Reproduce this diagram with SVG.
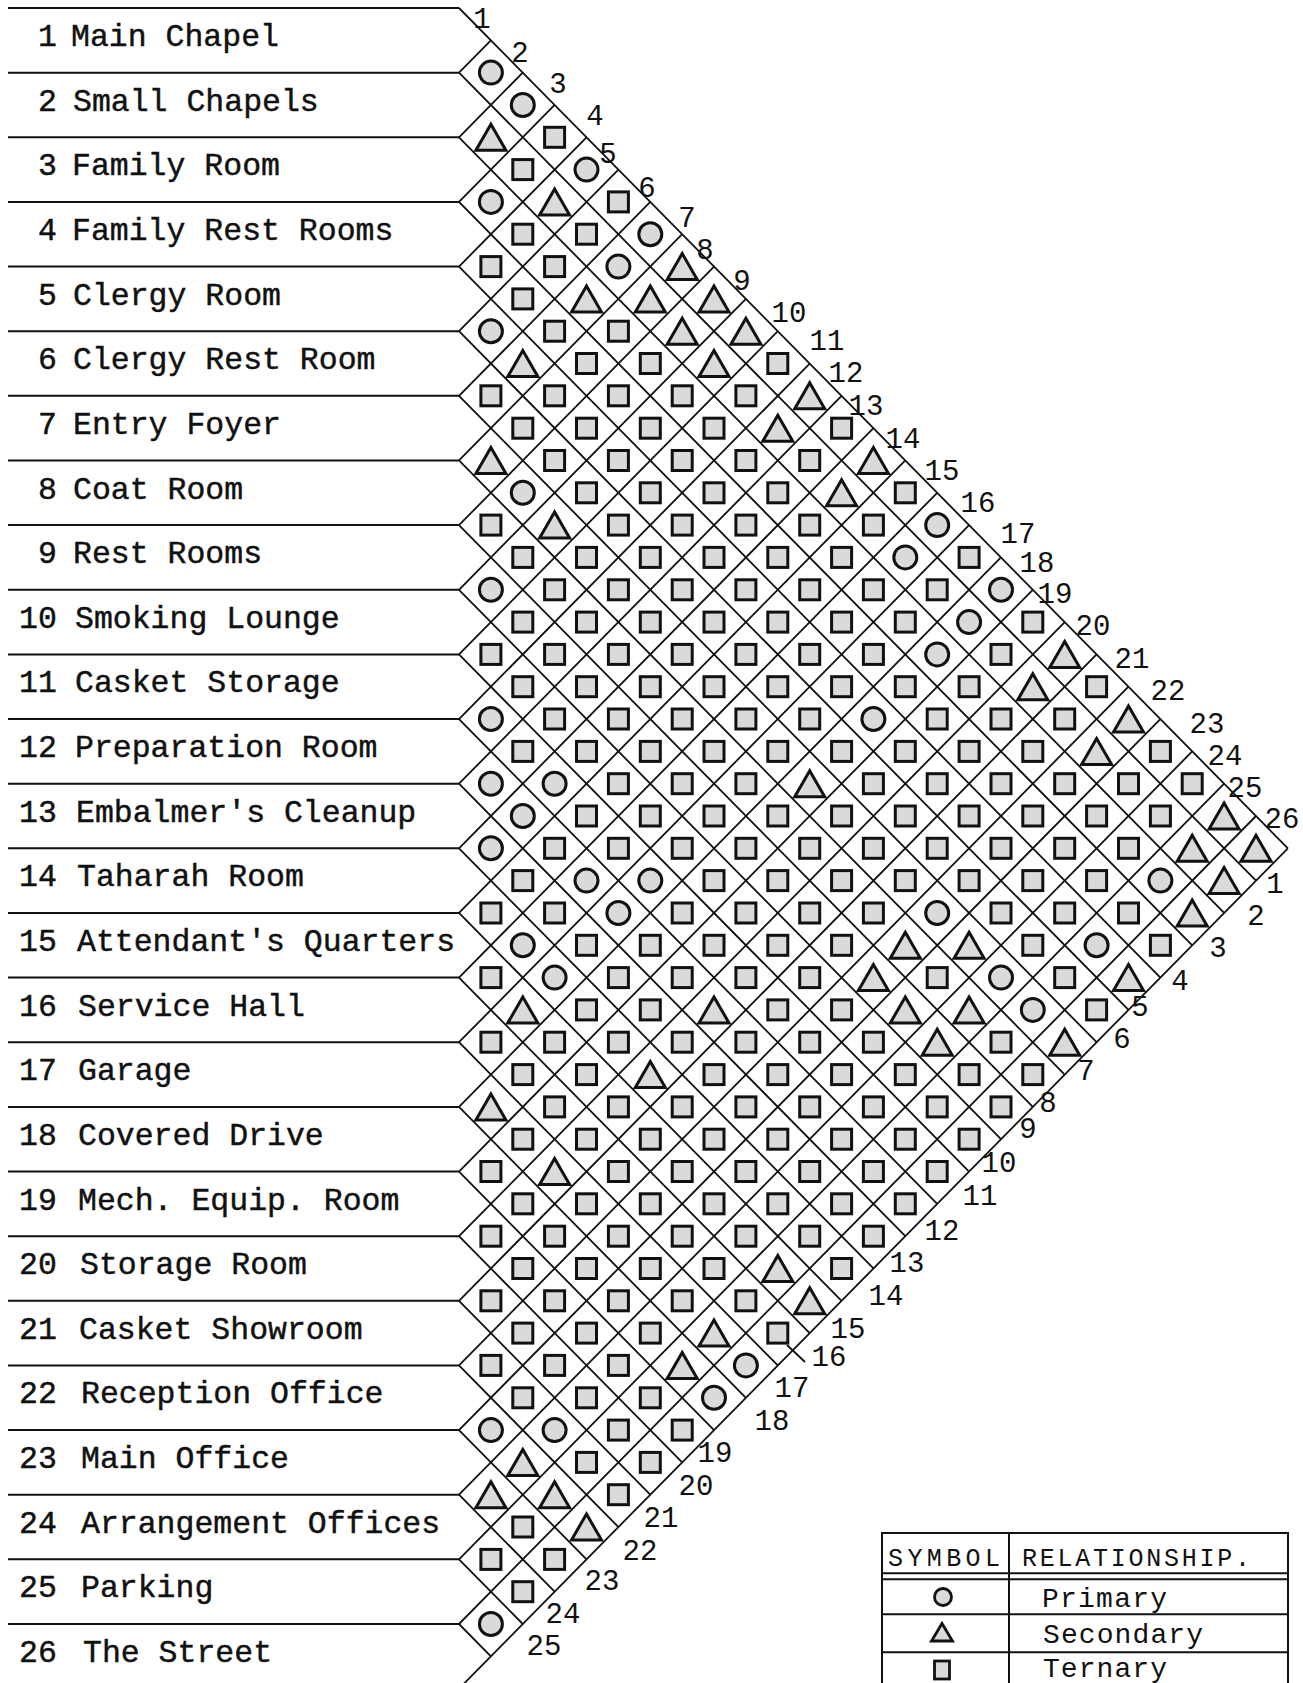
<svg xmlns="http://www.w3.org/2000/svg" xmlns:xlink="http://www.w3.org/1999/xlink" width="1303" height="1683" viewBox="0 0 1303 1683">
<style>
.lbl{font-family:"Liberation Mono","DejaVu Sans Mono",monospace;font-size:31.5px;fill:#111;stroke:#111;stroke-width:0.45}
.num{font-family:"Liberation Mono","DejaVu Sans Mono",monospace;font-size:29px;fill:#111;text-anchor:middle}
.leg{font-family:"Liberation Mono","DejaVu Sans Mono",monospace;fill:#111}
.ln{fill:none;stroke:#111;stroke-width:1.8}
.hl{fill:none;stroke:#111;stroke-width:2}
</style>
<defs>
<circle id="O" r="11.5"/>
<path id="T" d="M0 -13L15 13L-15 13Z"/>
<rect id="S" x="-10" y="-10" width="20" height="20"/>
</defs>
<rect width="1303" height="1683" fill="#fff"/>

<g id="row-lines" class="hl">
<path d="M8 8H459M8 72.64H459M8 137.28H459M8 201.92H459M8 266.56H459M8 331.2H459M8 395.84H459M8 460.48H459M8 525.12H459M8 589.76H459M8 654.4H459M8 719.04H459M8 783.68H459M8 848.32H459M8 912.96H459M8 977.6H459M8 1042.24H459M8 1106.88H459M8 1171.52H459M8 1236.16H459M8 1300.8H459M8 1365.44H459M8 1430.08H459M8 1494.72H459M8 1559.36H459M8 1624H459M8 1688.64H459"/>
</g>

<g id="labels" class="lbl">
<g id="room1"><text x="38" y="46">1</text><text x="71" y="46">Main Chapel</text></g>
<g id="room2"><text x="38" y="110.6">2</text><text x="73" y="110.6">Small Chapels</text></g>
<g id="room3"><text x="38" y="175.3">3</text><text x="72" y="175.3">Family Room</text></g>
<g id="room4"><text x="38" y="239.9">4</text><text x="72" y="239.9">Family Rest Rooms</text></g>
<g id="room5"><text x="38" y="304.6">5</text><text x="73" y="304.6">Clergy Room</text></g>
<g id="room6"><text x="38" y="369.2">6</text><text x="73" y="369.2">Clergy Rest Room</text></g>
<g id="room7"><text x="38" y="433.8">7</text><text x="73" y="433.8">Entry Foyer</text></g>
<g id="room8"><text x="38" y="498.5">8</text><text x="73" y="498.5">Coat Room</text></g>
<g id="room9"><text x="38" y="563.1">9</text><text x="73" y="563.1">Rest Rooms</text></g>
<g id="room10"><text x="19" y="627.8">10</text><text x="75" y="627.8">Smoking Lounge</text></g>
<g id="room11"><text x="19" y="692.4">11</text><text x="75" y="692.4">Casket Storage</text></g>
<g id="room12"><text x="19" y="757">12</text><text x="75" y="757">Preparation Room</text></g>
<g id="room13"><text x="19" y="821.7">13</text><text x="76" y="821.7">Embalmer's Cleanup</text></g>
<g id="room14"><text x="19" y="886.3">14</text><text x="77" y="886.3">Taharah Room</text></g>
<g id="room15"><text x="19" y="951">15</text><text x="77" y="951">Attendant's Quarters</text></g>
<g id="room16"><text x="19" y="1015.6">16</text><text x="78" y="1015.6">Service Hall</text></g>
<g id="room17"><text x="19" y="1080.2">17</text><text x="78" y="1080.2">Garage</text></g>
<g id="room18"><text x="19" y="1144.9">18</text><text x="78" y="1144.9">Covered Drive</text></g>
<g id="room19"><text x="19" y="1209.5">19</text><text x="78" y="1209.5">Mech. Equip. Room</text></g>
<g id="room20"><text x="19" y="1274.2">20</text><text x="80" y="1274.2">Storage Room</text></g>
<g id="room21"><text x="19" y="1338.8">21</text><text x="79" y="1338.8">Casket Showroom</text></g>
<g id="room22"><text x="19" y="1403.4">22</text><text x="81" y="1403.4">Reception Office</text></g>
<g id="room23"><text x="19" y="1468.1">23</text><text x="81" y="1468.1">Main Office</text></g>
<g id="room24"><text x="19" y="1532.7">24</text><text x="81" y="1532.7">Arrangement Offices</text></g>
<g id="room25"><text x="19" y="1597.4">25</text><text x="81" y="1597.4">Parking</text></g>
<g id="room26"><text x="19" y="1662">26</text><text x="83" y="1662">The Street</text></g>
</g>

<g id="grid" class="ln">
<path d="M459 8l828.88 840.32M459 72.64l797 808M459 137.28l765.12 775.68M459 201.92l733.24 743.36M459 266.56l701.36 711.04M459 331.2l669.48 678.72M459 395.84l637.6 646.4M459 460.48l605.72 614.08M459 525.12l573.84 581.76M459 589.76l541.96 549.44M459 654.4l510.08 517.12M459 719.04l478.2 484.8M459 783.68l446.32 452.48M459 848.32l414.44 420.16M459 912.96l382.56 387.84M459 977.6l350.68 355.52M459 1042.24l318.8 323.2M459 1106.88l286.92 290.88M459 1171.52l255.04 258.56M459 1236.16l223.16 226.24M459 1300.8l191.28 193.92M459 1365.44l159.4 161.6M459 1430.08l127.52 129.28M459 1494.72l95.64 96.96M459 1559.36l63.76 64.64M459 1624l31.88 32.32"/>
<path d="M459 72.64l31.88 -32.32M459 137.28l63.76 -64.64M459 201.92l95.64 -96.96M459 266.56l127.52 -129.28M459 331.2l159.4 -161.6M459 395.84l191.28 -193.92M459 460.48l223.16 -226.24M459 525.12l255.04 -258.56M459 589.76l286.92 -290.88M459 654.4l318.8 -323.2M459 719.04l350.68 -355.52M459 783.68l382.56 -387.84M459 848.32l414.44 -420.16M459 912.96l446.32 -452.48M459 977.6l478.2 -484.8M459 1042.24l510.08 -517.12M459 1106.88l541.96 -549.44M459 1171.52l573.84 -581.76M459 1236.16l605.72 -614.08M459 1300.8l637.6 -646.4M459 1365.44l669.48 -678.72M459 1430.08l701.36 -711.04M459 1494.72l733.24 -743.36M459 1559.36l765.12 -775.68M459 1624l797 -808M459 1688.64l828.88 -840.32"/>
<path d="M787 1345L805 1362"/>
</g>

<g id="column-numbers" class="num">
<text x="482" y="28">1</text><text x="520" y="62">2</text><text x="558" y="93">3</text><text x="595" y="125">4</text><text x="608" y="163">5</text><text x="647" y="197">6</text><text x="687" y="227">7</text><text x="705" y="259">8</text><text x="742" y="290">9</text><text x="789" y="322">10</text><text x="827" y="350">11</text><text x="846" y="382">12</text><text x="866" y="415">13</text><text x="903" y="448">14</text><text x="942" y="480">15</text><text x="978" y="512">16</text><text x="1018" y="543">17</text><text x="1037" y="572">18</text><text x="1055" y="603">19</text><text x="1093" y="635">20</text><text x="1132" y="668">21</text><text x="1168" y="700">22</text><text x="1207" y="733">23</text><text x="1225" y="765">24</text><text x="1245" y="797">25</text><text x="1282" y="828">26</text>
</g>
<g id="row-numbers" class="num">
<text x="1275" y="893">1</text><text x="1256" y="925">2</text><text x="1218" y="957">3</text><text x="1180" y="990">4</text><text x="1140" y="1016">5</text><text x="1122" y="1048">6</text><text x="1086" y="1080">7</text><text x="1048" y="1112">8</text><text x="1028" y="1138">9</text><text x="999" y="1172">10</text><text x="980" y="1205">11</text><text x="942" y="1240">12</text><text x="907" y="1272">13</text><text x="886" y="1305">14</text><text x="848" y="1338">15</text><text x="829" y="1366">16</text><text x="792" y="1397">17</text><text x="772" y="1430">18</text><text x="715" y="1462">19</text><text x="696" y="1495">20</text><text x="661" y="1527">21</text><text x="640" y="1560">22</text><text x="602" y="1590">23</text><text x="563" y="1623">24</text><text x="544" y="1655">25</text>
</g>

<g id="cells" fill="#dadada" stroke="#111" stroke-width="3">
<!-- row 1 -->
<use href="#O" x="490.9" y="72.6"/><use href="#O" x="522.8" y="105"/><use href="#S" x="554.6" y="137.3"/><use href="#O" x="586.5" y="169.6"/><use href="#S" x="618.4" y="201.9"/><use href="#O" x="650.3" y="234.2"/><use href="#T" x="682.2" y="266.6"/><use href="#T" x="714" y="298.9"/><use href="#T" x="745.9" y="331.2"/><use href="#S" x="777.8" y="363.5"/><use href="#T" x="809.7" y="395.8"/><use href="#S" x="841.6" y="428.2"/><use href="#T" x="873.4" y="460.5"/><use href="#S" x="905.3" y="492.8"/><use href="#O" x="937.2" y="525.1"/><use href="#S" x="969.1" y="557.4"/><use href="#O" x="1001" y="589.8"/><use href="#S" x="1032.8" y="622.1"/><use href="#T" x="1064.7" y="654.4"/><use href="#S" x="1096.6" y="686.7"/><use href="#T" x="1128.5" y="719"/><use href="#S" x="1160.4" y="751.4"/><use href="#S" x="1192.2" y="783.7"/><use href="#T" x="1224.1" y="816"/><use href="#T" x="1256" y="848.3"/>
<!-- row 2 -->
<use href="#T" x="490.9" y="137.3"/><use href="#S" x="522.8" y="169.6"/><use href="#T" x="554.6" y="201.9"/><use href="#S" x="586.5" y="234.2"/><use href="#O" x="618.4" y="266.6"/><use href="#T" x="650.3" y="298.9"/><use href="#T" x="682.2" y="331.2"/><use href="#T" x="714" y="363.5"/><use href="#S" x="745.9" y="395.8"/><use href="#T" x="777.8" y="428.2"/><use href="#S" x="809.7" y="460.5"/><use href="#T" x="841.6" y="492.8"/><use href="#S" x="873.4" y="525.1"/><use href="#O" x="905.3" y="557.4"/><use href="#S" x="937.2" y="589.8"/><use href="#O" x="969.1" y="622.1"/><use href="#S" x="1001" y="654.4"/><use href="#T" x="1032.8" y="686.7"/><use href="#S" x="1064.7" y="719"/><use href="#T" x="1096.6" y="751.4"/><use href="#S" x="1128.5" y="783.7"/><use href="#S" x="1160.4" y="816"/><use href="#T" x="1192.2" y="848.3"/><use href="#T" x="1224.1" y="880.6"/>
<!-- row 3 -->
<use href="#O" x="490.9" y="201.9"/><use href="#S" x="522.8" y="234.2"/><use href="#S" x="554.6" y="266.6"/><use href="#T" x="586.5" y="298.9"/><use href="#S" x="618.4" y="331.2"/><use href="#S" x="650.3" y="363.5"/><use href="#S" x="682.2" y="395.8"/><use href="#S" x="714" y="428.2"/><use href="#S" x="745.9" y="460.5"/><use href="#S" x="777.8" y="492.8"/><use href="#S" x="809.7" y="525.1"/><use href="#S" x="841.6" y="557.4"/><use href="#S" x="873.4" y="589.8"/><use href="#S" x="905.3" y="622.1"/><use href="#O" x="937.2" y="654.4"/><use href="#S" x="969.1" y="686.7"/><use href="#S" x="1001" y="719"/><use href="#S" x="1032.8" y="751.4"/><use href="#S" x="1064.7" y="783.7"/><use href="#S" x="1096.6" y="816"/><use href="#S" x="1128.5" y="848.3"/><use href="#O" x="1160.4" y="880.6"/><use href="#T" x="1192.2" y="913"/>
<!-- row 4 -->
<use href="#S" x="490.9" y="266.6"/><use href="#S" x="522.8" y="298.9"/><use href="#S" x="554.6" y="331.2"/><use href="#S" x="586.5" y="363.5"/><use href="#S" x="618.4" y="395.8"/><use href="#S" x="650.3" y="428.2"/><use href="#S" x="682.2" y="460.5"/><use href="#S" x="714" y="492.8"/><use href="#S" x="745.9" y="525.1"/><use href="#S" x="777.8" y="557.4"/><use href="#S" x="809.7" y="589.8"/><use href="#S" x="841.6" y="622.1"/><use href="#S" x="873.4" y="654.4"/><use href="#S" x="905.3" y="686.7"/><use href="#S" x="937.2" y="719"/><use href="#S" x="969.1" y="751.4"/><use href="#S" x="1001" y="783.7"/><use href="#S" x="1032.8" y="816"/><use href="#S" x="1064.7" y="848.3"/><use href="#S" x="1096.6" y="880.6"/><use href="#S" x="1128.5" y="913"/><use href="#S" x="1160.4" y="945.3"/>
<!-- row 5 -->
<use href="#O" x="490.9" y="331.2"/><use href="#T" x="522.8" y="363.5"/><use href="#S" x="554.6" y="395.8"/><use href="#S" x="586.5" y="428.2"/><use href="#S" x="618.4" y="460.5"/><use href="#S" x="650.3" y="492.8"/><use href="#S" x="682.2" y="525.1"/><use href="#S" x="714" y="557.4"/><use href="#S" x="745.9" y="589.8"/><use href="#S" x="777.8" y="622.1"/><use href="#S" x="809.7" y="654.4"/><use href="#S" x="841.6" y="686.7"/><use href="#O" x="873.4" y="719"/><use href="#S" x="905.3" y="751.4"/><use href="#S" x="937.2" y="783.7"/><use href="#S" x="969.1" y="816"/><use href="#S" x="1001" y="848.3"/><use href="#S" x="1032.8" y="880.6"/><use href="#S" x="1064.7" y="913"/><use href="#O" x="1096.6" y="945.3"/><use href="#T" x="1128.5" y="977.6"/>
<!-- row 6 -->
<use href="#S" x="490.9" y="395.8"/><use href="#S" x="522.8" y="428.2"/><use href="#S" x="554.6" y="460.5"/><use href="#S" x="586.5" y="492.8"/><use href="#S" x="618.4" y="525.1"/><use href="#S" x="650.3" y="557.4"/><use href="#S" x="682.2" y="589.8"/><use href="#S" x="714" y="622.1"/><use href="#S" x="745.9" y="654.4"/><use href="#S" x="777.8" y="686.7"/><use href="#S" x="809.7" y="719"/><use href="#S" x="841.6" y="751.4"/><use href="#S" x="873.4" y="783.7"/><use href="#S" x="905.3" y="816"/><use href="#S" x="937.2" y="848.3"/><use href="#S" x="969.1" y="880.6"/><use href="#S" x="1001" y="913"/><use href="#S" x="1032.8" y="945.3"/><use href="#S" x="1064.7" y="977.6"/><use href="#S" x="1096.6" y="1009.9"/>
<!-- row 7 -->
<use href="#T" x="490.9" y="460.5"/><use href="#O" x="522.8" y="492.8"/><use href="#T" x="554.6" y="525.1"/><use href="#S" x="586.5" y="557.4"/><use href="#S" x="618.4" y="589.8"/><use href="#S" x="650.3" y="622.1"/><use href="#S" x="682.2" y="654.4"/><use href="#S" x="714" y="686.7"/><use href="#S" x="745.9" y="719"/><use href="#S" x="777.8" y="751.4"/><use href="#T" x="809.7" y="783.7"/><use href="#S" x="841.6" y="816"/><use href="#S" x="873.4" y="848.3"/><use href="#S" x="905.3" y="880.6"/><use href="#O" x="937.2" y="913"/><use href="#T" x="969.1" y="945.3"/><use href="#O" x="1001" y="977.6"/><use href="#O" x="1032.8" y="1009.9"/><use href="#T" x="1064.7" y="1042.2"/>
<!-- row 8 -->
<use href="#S" x="490.9" y="525.1"/><use href="#S" x="522.8" y="557.4"/><use href="#S" x="554.6" y="589.8"/><use href="#S" x="586.5" y="622.1"/><use href="#S" x="618.4" y="654.4"/><use href="#S" x="650.3" y="686.7"/><use href="#S" x="682.2" y="719"/><use href="#S" x="714" y="751.4"/><use href="#S" x="745.9" y="783.7"/><use href="#S" x="777.8" y="816"/><use href="#S" x="809.7" y="848.3"/><use href="#S" x="841.6" y="880.6"/><use href="#S" x="873.4" y="913"/><use href="#T" x="905.3" y="945.3"/><use href="#S" x="937.2" y="977.6"/><use href="#T" x="969.1" y="1009.9"/><use href="#S" x="1001" y="1042.2"/><use href="#S" x="1032.8" y="1074.6"/>
<!-- row 9 -->
<use href="#O" x="490.9" y="589.8"/><use href="#S" x="522.8" y="622.1"/><use href="#S" x="554.6" y="654.4"/><use href="#S" x="586.5" y="686.7"/><use href="#S" x="618.4" y="719"/><use href="#S" x="650.3" y="751.4"/><use href="#S" x="682.2" y="783.7"/><use href="#S" x="714" y="816"/><use href="#S" x="745.9" y="848.3"/><use href="#S" x="777.8" y="880.6"/><use href="#S" x="809.7" y="913"/><use href="#S" x="841.6" y="945.3"/><use href="#T" x="873.4" y="977.6"/><use href="#T" x="905.3" y="1009.9"/><use href="#T" x="937.2" y="1042.2"/><use href="#S" x="969.1" y="1074.6"/><use href="#S" x="1001" y="1106.9"/>
<!-- row 10 -->
<use href="#S" x="490.9" y="654.4"/><use href="#S" x="522.8" y="686.7"/><use href="#S" x="554.6" y="719"/><use href="#S" x="586.5" y="751.4"/><use href="#S" x="618.4" y="783.7"/><use href="#S" x="650.3" y="816"/><use href="#S" x="682.2" y="848.3"/><use href="#S" x="714" y="880.6"/><use href="#S" x="745.9" y="913"/><use href="#S" x="777.8" y="945.3"/><use href="#S" x="809.7" y="977.6"/><use href="#S" x="841.6" y="1009.9"/><use href="#S" x="873.4" y="1042.2"/><use href="#S" x="905.3" y="1074.6"/><use href="#S" x="937.2" y="1106.9"/><use href="#S" x="969.1" y="1139.2"/>
<!-- row 11 -->
<use href="#O" x="490.9" y="719"/><use href="#S" x="522.8" y="751.4"/><use href="#O" x="554.6" y="783.7"/><use href="#S" x="586.5" y="816"/><use href="#S" x="618.4" y="848.3"/><use href="#O" x="650.3" y="880.6"/><use href="#S" x="682.2" y="913"/><use href="#S" x="714" y="945.3"/><use href="#S" x="745.9" y="977.6"/><use href="#S" x="777.8" y="1009.9"/><use href="#S" x="809.7" y="1042.2"/><use href="#S" x="841.6" y="1074.6"/><use href="#S" x="873.4" y="1106.9"/><use href="#S" x="905.3" y="1139.2"/><use href="#S" x="937.2" y="1171.5"/>
<!-- row 12 -->
<use href="#O" x="490.9" y="783.7"/><use href="#O" x="522.8" y="816"/><use href="#S" x="554.6" y="848.3"/><use href="#O" x="586.5" y="880.6"/><use href="#O" x="618.4" y="913"/><use href="#S" x="650.3" y="945.3"/><use href="#S" x="682.2" y="977.6"/><use href="#T" x="714" y="1009.9"/><use href="#S" x="745.9" y="1042.2"/><use href="#S" x="777.8" y="1074.6"/><use href="#S" x="809.7" y="1106.9"/><use href="#S" x="841.6" y="1139.2"/><use href="#S" x="873.4" y="1171.5"/><use href="#S" x="905.3" y="1203.8"/>
<!-- row 13 -->
<use href="#O" x="490.9" y="848.3"/><use href="#S" x="522.8" y="880.6"/><use href="#S" x="554.6" y="913"/><use href="#S" x="586.5" y="945.3"/><use href="#S" x="618.4" y="977.6"/><use href="#S" x="650.3" y="1009.9"/><use href="#S" x="682.2" y="1042.2"/><use href="#S" x="714" y="1074.6"/><use href="#S" x="745.9" y="1106.9"/><use href="#S" x="777.8" y="1139.2"/><use href="#S" x="809.7" y="1171.5"/><use href="#S" x="841.6" y="1203.8"/><use href="#S" x="873.4" y="1236.2"/>
<!-- row 14 -->
<use href="#S" x="490.9" y="913"/><use href="#O" x="522.8" y="945.3"/><use href="#O" x="554.6" y="977.6"/><use href="#S" x="586.5" y="1009.9"/><use href="#S" x="618.4" y="1042.2"/><use href="#T" x="650.3" y="1074.6"/><use href="#S" x="682.2" y="1106.9"/><use href="#S" x="714" y="1139.2"/><use href="#S" x="745.9" y="1171.5"/><use href="#S" x="777.8" y="1203.8"/><use href="#S" x="809.7" y="1236.2"/><use href="#S" x="841.6" y="1268.5"/>
<!-- row 15 -->
<use href="#S" x="490.9" y="977.6"/><use href="#T" x="522.8" y="1009.9"/><use href="#S" x="554.6" y="1042.2"/><use href="#S" x="586.5" y="1074.6"/><use href="#S" x="618.4" y="1106.9"/><use href="#S" x="650.3" y="1139.2"/><use href="#S" x="682.2" y="1171.5"/><use href="#S" x="714" y="1203.8"/><use href="#S" x="745.9" y="1236.2"/><use href="#T" x="777.8" y="1268.5"/><use href="#T" x="809.7" y="1300.8"/>
<!-- row 16 -->
<use href="#S" x="490.9" y="1042.2"/><use href="#S" x="522.8" y="1074.6"/><use href="#S" x="554.6" y="1106.9"/><use href="#S" x="586.5" y="1139.2"/><use href="#S" x="618.4" y="1171.5"/><use href="#S" x="650.3" y="1203.8"/><use href="#S" x="682.2" y="1236.2"/><use href="#S" x="714" y="1268.5"/><use href="#S" x="745.9" y="1300.8"/><use href="#S" x="777.8" y="1333.1"/>
<!-- row 17 -->
<use href="#T" x="490.9" y="1106.9"/><use href="#S" x="522.8" y="1139.2"/><use href="#T" x="554.6" y="1171.5"/><use href="#S" x="586.5" y="1203.8"/><use href="#S" x="618.4" y="1236.2"/><use href="#S" x="650.3" y="1268.5"/><use href="#S" x="682.2" y="1300.8"/><use href="#T" x="714" y="1333.1"/><use href="#O" x="745.9" y="1365.4"/>
<!-- row 18 -->
<use href="#S" x="490.9" y="1171.5"/><use href="#S" x="522.8" y="1203.8"/><use href="#S" x="554.6" y="1236.2"/><use href="#S" x="586.5" y="1268.5"/><use href="#S" x="618.4" y="1300.8"/><use href="#S" x="650.3" y="1333.1"/><use href="#T" x="682.2" y="1365.4"/><use href="#O" x="714" y="1397.8"/>
<!-- row 19 -->
<use href="#S" x="490.9" y="1236.2"/><use href="#S" x="522.8" y="1268.5"/><use href="#S" x="554.6" y="1300.8"/><use href="#S" x="586.5" y="1333.1"/><use href="#S" x="618.4" y="1365.4"/><use href="#S" x="650.3" y="1397.8"/><use href="#S" x="682.2" y="1430.1"/>
<!-- row 20 -->
<use href="#S" x="490.9" y="1300.8"/><use href="#S" x="522.8" y="1333.1"/><use href="#S" x="554.6" y="1365.4"/><use href="#S" x="586.5" y="1397.8"/><use href="#S" x="618.4" y="1430.1"/><use href="#S" x="650.3" y="1462.4"/>
<!-- row 21 -->
<use href="#S" x="490.9" y="1365.4"/><use href="#S" x="522.8" y="1397.8"/><use href="#O" x="554.6" y="1430.1"/><use href="#S" x="586.5" y="1462.4"/><use href="#S" x="618.4" y="1494.7"/>
<!-- row 22 -->
<use href="#O" x="490.9" y="1430.1"/><use href="#T" x="522.8" y="1462.4"/><use href="#T" x="554.6" y="1494.7"/><use href="#T" x="586.5" y="1527"/>
<!-- row 23 -->
<use href="#T" x="490.9" y="1494.7"/><use href="#S" x="522.8" y="1527"/><use href="#S" x="554.6" y="1559.4"/>
<!-- row 24 -->
<use href="#S" x="490.9" y="1559.4"/><use href="#S" x="522.8" y="1591.7"/>
<!-- row 25 -->
<use href="#O" x="490.9" y="1624"/>
</g>

<g id="legend">
<path d="M882 1690V1533H1288V1690M1009 1533V1690M882 1573.3H1288M882 1579.3H1288M882 1614.3H1288M882 1652.3H1288" fill="none" stroke="#111" stroke-width="2"/>
<text class="leg" x="888" y="1566" font-size="25" textLength="112" lengthAdjust="spacing">SYMBOL</text>
<text class="leg" x="1022" y="1566" font-size="25" textLength="228" lengthAdjust="spacing">RELATIONSHIP.</text>
<g fill="#dadada" stroke="#111" stroke-width="2.8">
<circle cx="943" cy="1597" r="8.5"/>
<path d="M942 1623.5L952.5 1641L931.5 1641Z"/>
<rect x="934.5" y="1661" width="15" height="18"/>
</g>
<text class="leg" x="1042" y="1607" font-size="28" textLength="125" lengthAdjust="spacing">Primary</text>
<text class="leg" x="1043" y="1643" font-size="28" textLength="160" lengthAdjust="spacing">Secondary</text>
<text class="leg" x="1043" y="1677" font-size="28" textLength="124" lengthAdjust="spacing">Ternary</text>
</g>
</svg>
